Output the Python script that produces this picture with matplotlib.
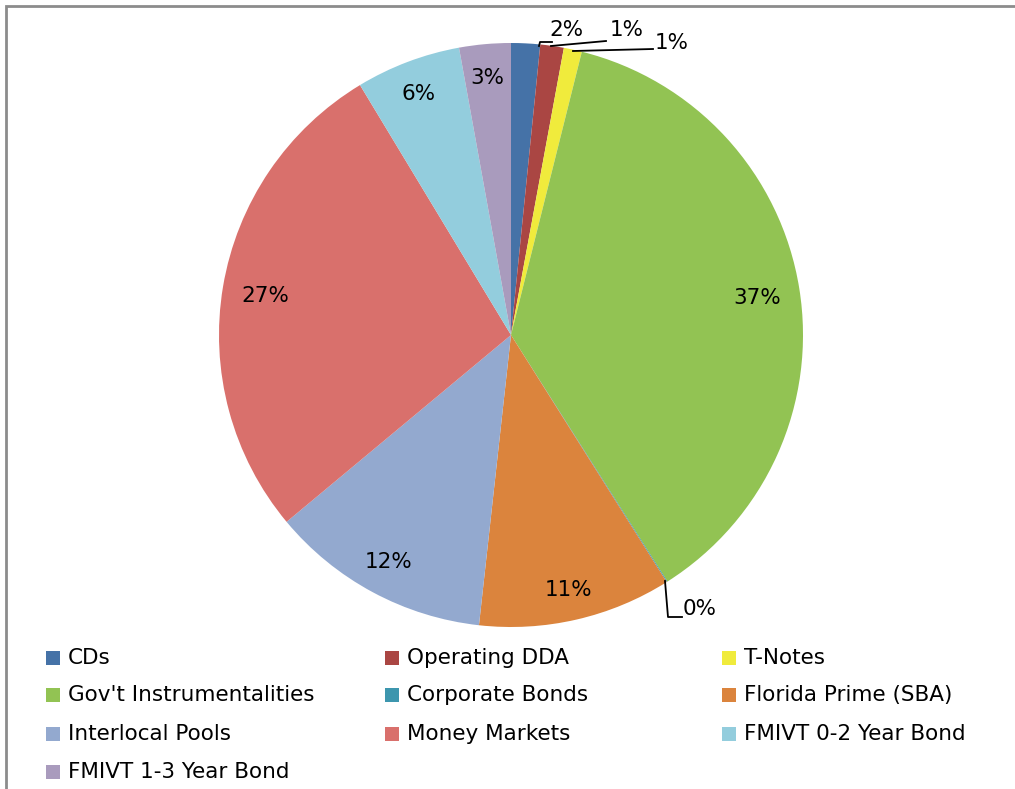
import matplotlib.pyplot as plt
from matplotlib.patches import Rectangle

categories = ["CDs", "Operating DDA", "T-Notes", "Gov't Instrumentalities",
              "Corporate Bonds", "Florida Prime (SBA)", "Interlocal Pools",
              "Money Markets", "FMIVT 0-2 Year Bond", "FMIVT 1-3 Year Bond"]
shares = [1.6, 1.3, 1.0, 37.1, 0.05, 10.7, 12.2, 27.4, 5.8, 2.85]
labels = ["2%", "1%", "1%", "37%", "0%", "11%", "12%", "27%", "6%", "3%"]
colors = ["#4572A7", "#AA4643", "#F0EB3C", "#92C353", "#3D96AE",
          "#DB843D", "#93A9CF", "#D9706C", "#93CDDD", "#A99BBD"]

font = "DejaVu Sans"
fs = 15.5
W, H = 1015, 789

fig = plt.figure(figsize=(W / 100, H / 100), dpi=100)
ax = fig.add_axes([0, 0, 1, 1])

# pie in pixel-like coordinates; y axis is flipped, so start at -90 and
# go counterclockwise in data, which shows clockwise from 12 o'clock
cx, cy, r = 511, 335, 292
ax.pie(shares, colors=colors, startangle=-90, counterclock=True,
       center=(cx, cy), radius=r, frame=True, wedgeprops=dict(linewidth=0))
ax.set_xlim(0, W)
ax.set_ylim(H, 0)
ax.axis('off')

# labels inside the big slices
inside = {3: (757, 298), 5: (569, 590), 6: (389, 562), 7: (265, 296), 8: (419, 94), 9: (487, 78)}
for i, (x, y) in inside.items():
    ax.text(x, y, labels[i], ha='center', va='center', fontsize=fs, family=font)

# outside labels with leader lines for the small slices
outside = {0: ((566, 30), [(539, 46), (540, 42), (552, 42)]),
           1: ((627, 30), [(551, 46), (606, 41)]),
           2: ((672, 43), [(573, 51), (653, 49)]),
           4: ((700, 609), [(665, 581), (668, 617), (682, 617)])}
for i, ((x, y), pts) in outside.items():
    xs, ys = zip(*pts)
    ax.plot(xs, ys, color='black', lw=1.3)
    ax.text(x, y, labels[i], ha='center', va='center', fontsize=fs, family=font)

# legend, filled row by row in three columns
col_x = [46, 385, 722]
row_y = [658, 695, 734, 772]
for k, name in enumerate(categories):
    x = col_x[k % 3]
    y = row_y[k // 3]
    ax.add_patch(Rectangle((x, y - 7), 14, 14, color=colors[k], lw=0))
    ax.text(x + 22, y, name, ha='left', va='center', fontsize=fs, family=font)

# chart frame (cut by the picture edge on the right and bottom)
ax.plot([6, 6, W + 5], [H + 5, 6, 6], color='#8C8C8C', lw=2, solid_joinstyle='miter')

fig.savefig('out.png', dpi=100)
